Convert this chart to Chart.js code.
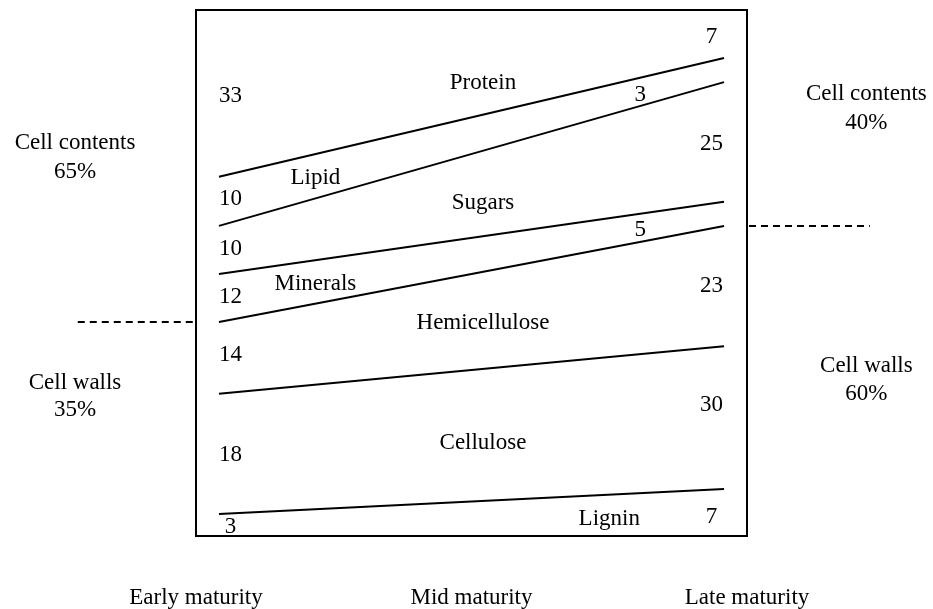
<!DOCTYPE html>
<html>
<head>
<meta charset="utf-8">
<script src="https://cdn.jsdelivr.net/npm/chart.js@4"></script>
<style>
  html, body { margin: 0; padding: 0; background: #fff; overflow: hidden; }
  canvas { display: block; }
</style>
</head>
<body>
<canvas id="forage-chart" width="933" height="609" style="width:933px;height:609px"></canvas>
<script>
// components from bottom to top
const components = ["Lignin", "Cellulose", "Hemicellulose", "Minerals", "Sugars", "Lipid", "Protein"];
const earlyShare = [3, 18, 14, 12, 10, 10, 33];
const lateShare = [7, 30, 23, 5, 25, 3, 7];
const maturityLabels = ["Early maturity", "Mid maturity", "Late maturity"];

// boundary lines as drawn (top edge of each component below protein), % of dry matter
const earlyBoundary = [1.9, 25.9, 40.2, 49.8, 59.4, 69.2];
const lateBoundary = [6.9, 35.4, 59.4, 64.2, 88.1, 92.9];

const cellContents = [65, 40];
const cellWalls = [35, 60];

const FONT = '23px "Liberation Serif", "Times New Roman", serif';

// where the labels sit, in axis units
const earlyNumPos = [[1.5, -0.7], [1.5, 13.7], [1.5, 33.6], [1.5, 45.2], [1.5, 54.8], [1.5, 64.8], [1.5, 85.3]];
const lateNumPos = [[22.45, 1.3], [22.45, 23.7], [22.45, 47.4], [19.35, 58.6], [22.45, 75.7], [19.35, 85.5], [22.45, 97.1]];
const namePos = [[18.0, 0.9], [12.5, 16.1], [12.5, 40.0], [5.2, 47.8], [12.5, 64.0], [5.2, 69.0], [12.5, 87.9]];

const datasets = earlyBoundary.map((v, i) => ({
  label: components[i],
  data: [{ x: 1, y: v }, { x: 23, y: lateBoundary[i] }],
  borderColor: "#000",
  borderWidth: 2,
  pointRadius: 0,
  fill: false,
}));

const annotations = {
  id: "annotations",
  afterDatasetsDraw(chart) {
    const { ctx, chartArea, scales } = chart;
    const xs = scales.x, ys = scales.y;
    const px = (v) => xs.getPixelForValue(v);
    const py = (v) => ys.getPixelForValue(v);

    ctx.save();
    // frame
    ctx.strokeStyle = "#000";
    ctx.lineWidth = 2;
    ctx.strokeRect(chartArea.left, chartArea.top, chartArea.right - chartArea.left, chartArea.bottom - chartArea.top);

    // dashed cell wall / cell content split
    ctx.setLineDash([7, 5]);
    ctx.lineWidth = 2;
    ctx.beginPath();
    ctx.moveTo(px(-5.15), py(earlyBoundary[2]));
    ctx.lineTo(chartArea.left, py(earlyBoundary[2]));
    ctx.moveTo(chartArea.right + 2, py(lateBoundary[2]));
    ctx.lineTo(px(29.35), py(lateBoundary[2]));
    ctx.stroke();
    ctx.setLineDash([]);

    ctx.fillStyle = "#000";
    ctx.font = FONT;
    ctx.textAlign = "center";
    ctx.textBaseline = "middle";

    earlyShare.forEach((v, i) => ctx.fillText(String(v), px(earlyNumPos[i][0]), py(earlyNumPos[i][1])));
    lateShare.forEach((v, i) => ctx.fillText(String(v), px(lateNumPos[i][0]), py(lateNumPos[i][1])));
    components.forEach((c, i) => ctx.fillText(c, px(namePos[i][0]), py(namePos[i][1])));

    ctx.fillText("Cell contents", px(-5.27), py(76.0));
    ctx.fillText(cellContents[0] + "%", px(-5.27), py(70.2));
    ctx.fillText("Cell walls", px(-5.27), py(28.0));
    ctx.fillText(cellWalls[0] + "%", px(-5.27), py(22.7));

    ctx.fillText("Cell contents", px(29.2), py(85.7));
    ctx.fillText(cellContents[1] + "%", px(29.2), py(79.9));
    ctx.fillText("Cell walls", px(29.2), py(31.4));
    ctx.fillText(cellWalls[1] + "%", px(29.2), py(25.9));
    ctx.restore();
  },
};

new Chart(document.getElementById("forage-chart"), {
  type: "line",
  data: { datasets },
  options: {
    responsive: false,
    animation: false,
    layout: { padding: { left: 196, right: 186, top: 10, bottom: 0 } },
    plugins: {
      legend: { display: false },
      tooltip: { enabled: false },
    },
    scales: {
      x: {
        type: "linear",
        min: 0,
        max: 24,
        grid: { display: false, drawTicks: false },
        border: { display: false },
        afterBuildTicks: (axis) => {
          axis.ticks = [{ value: 0 }, { value: 12 }, { value: 24 }];
        },
        afterFit: (axis) => {
          axis.height = 73;
        },
        ticks: {
          padding: 48,
          maxRotation: 0,
          autoSkip: false,
          color: "#000",
          font: { family: '"Liberation Serif", "Times New Roman", serif', size: 23 },
          callback: (value, index) => maturityLabels[index],
        },
      },
      y: {
        display: false,
        min: -2.5,
        max: 102.5,
      },
    },
  },
  plugins: [annotations],
});
</script>
</body>
</html>
